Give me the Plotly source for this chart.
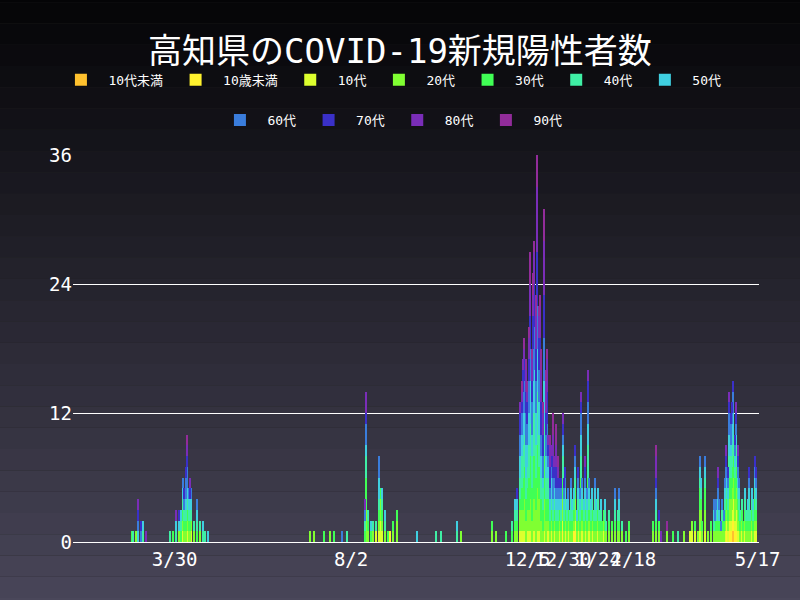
import plotly.graph_objects as go

# age groups (stack order bottom -> top) and colours
groups = ["10代未満", "10歳未満", "10代", "20代", "30代", "40代", "50代",
          "60代", "70代", "80代", "90代"]
colors = ["#FFC12E", "#FFF22E", "#DDFF2E", "#80FF32", "#40FF55", "#3FEFA5",
          "#3FCFE0", "#3A7DDC", "#3A30C8", "#7A2DB8", "#922C9A"]

# daily new cases per age group (date, counts in group order)
rows = [
    ("2020-02-29", [0,0,0,0,1,0,0,0,0,0,0]),
    ("2020-03-01", [0,0,0,0,0,1,0,0,0,0,0]),
    ("2020-03-03", [0,0,0,1,0,0,0,0,0,0,0]),
    ("2020-03-04", [0,0,0,0,0,0,1,1,1,1,0]),
    ("2020-03-06", [0,0,0,0,0,0,0,1,1,0,0]),
    ("2020-03-08", [0,0,0,0,0,1,1,0,0,0,0]),
    ("2020-03-10", [0,0,0,0,0,0,0,0,0,1,0]),
    ("2020-03-27", [0,0,0,0,0,1,0,0,0,0,0]),
    ("2020-03-29", [0,0,0,0,1,0,0,0,0,0,0]),
    ("2020-03-31", [0,0,0,0,0,1,1,0,0,1,0]),
    ("2020-04-02", [0,0,0,1,0,0,1,0,1,0,0]),
    ("2020-04-04", [0,0,0,0,1,1,1,0,0,0,0]),
    ("2020-04-05", [0,0,1,1,1,1,1,1,0,0,0]),
    ("2020-04-06", [0,0,0,1,1,1,0,1,1,0,0]),
    ("2020-04-07", [0,0,0,1,1,1,1,2,1,0,0]),
    ("2020-04-08", [0,0,1,1,1,1,1,2,1,1,1]),
    ("2020-04-09", [0,0,0,1,1,1,1,1,0,0,0]),
    ("2020-04-10", [0,0,0,1,1,1,1,0,1,1,0]),
    ("2020-04-11", [0,0,1,1,0,1,1,1,0,0,0]),
    ("2020-04-13", [0,0,0,1,0,1,0,0,0,0,0]),
    ("2020-04-15", [0,0,0,0,1,1,1,1,0,0,0]),
    ("2020-04-17", [0,0,0,1,0,1,0,0,0,0,0]),
    ("2020-04-19", [0,0,0,0,0,1,1,0,0,0,0]),
    ("2020-04-21", [0,0,0,0,0,1,0,0,0,0,0]),
    ("2020-04-23", [0,0,0,0,0,0,1,0,0,0,0]),
    ("2020-07-04", [0,0,0,1,0,0,0,0,0,0,0]),
    ("2020-07-07", [0,0,0,1,0,0,0,0,0,0,0]),
    ("2020-07-14", [0,0,0,0,1,0,0,0,0,0,0]),
    ("2020-07-18", [0,0,0,1,0,0,0,0,0,0,0]),
    ("2020-07-21", [0,0,0,0,1,0,0,0,0,0,0]),
    ("2020-07-27", [0,0,0,0,0,0,0,1,0,0,0]),
    ("2020-07-30", [0,0,0,0,0,1,0,0,0,0,0]),
    ("2020-08-12", [0,0,0,0,1,1,0,1,0,1,0]),
    ("2020-08-13", [0,0,0,3,3,2,1,2,1,2,0]),
    ("2020-08-14", [0,0,0,1,1,1,0,0,0,0,0]),
    ("2020-08-16", [0,0,0,0,1,0,1,0,0,0,0]),
    ("2020-08-18", [0,0,0,1,0,1,0,0,0,0,0]),
    ("2020-08-20", [0,0,1,0,0,1,0,0,0,0,0]),
    ("2020-08-22", [0,0,1,1,1,1,2,2,0,0,0]),
    ("2020-08-23", [0,0,2,2,1,0,0,0,0,0,0]),
    ("2020-08-24", [0,0,1,1,1,1,1,0,0,0,0]),
    ("2020-08-26", [0,0,0,1,0,1,1,0,0,0,0]),
    ("2020-08-28", [0,0,0,0,1,0,0,0,0,0,0]),
    ("2020-08-30", [0,1,0,0,0,0,0,0,0,0,0]),
    ("2020-09-01", [0,0,0,1,1,0,0,0,0,0,0]),
    ("2020-09-04", [0,0,0,2,1,0,0,0,0,0,0]),
    ("2020-09-18", [0,0,0,0,0,0,1,0,0,0,0]),
    ("2020-10-01", [0,0,0,0,0,1,0,0,0,0,0]),
    ("2020-10-05", [0,0,0,0,0,1,0,0,0,0,0]),
    ("2020-10-16", [0,0,0,0,0,1,1,0,0,0,0]),
    ("2020-10-19", [0,0,0,1,0,0,0,0,0,0,0]),
    ("2020-11-10", [0,0,0,1,1,0,0,0,0,0,0]),
    ("2020-11-13", [0,0,0,1,0,0,0,0,0,0,0]),
    ("2020-11-20", [0,0,0,0,1,0,0,0,0,0,0]),
    ("2020-11-24", [0,0,0,0,1,1,0,0,0,0,0]),
    ("2020-11-26", [0,0,0,1,1,1,1,0,0,0,0]),
    ("2020-11-28", [0,0,0,1,1,1,1,0,1,0,0]),
    ("2020-11-30", [0,0,1,2,1,2,2,2,2,1,0]),
    ("2020-12-01", [0,0,1,2,2,3,2,2,1,1,1]),
    ("2020-12-02", [0,0,1,2,3,3,3,2,2,1,0]),
    ("2020-12-03", [0,0,1,3,3,3,2,3,2,1,1]),
    ("2020-12-04", [0,0,0,2,2,2,3,3,2,2,1]),
    ("2020-12-05", [0,0,1,2,2,2,2,2,2,1,1]),
    ("2020-12-06", [0,0,1,2,3,3,3,3,2,2,1]),
    ("2020-12-07", [0,0,1,3,4,3,4,3,3,3,3]),
    ("2020-12-08", [0,0,0,2,3,3,2,3,2,2,1]),
    ("2020-12-09", [0,0,1,3,4,4,3,3,3,2,2]),
    ("2020-12-10", [0,0,1,3,4,4,4,4,4,3,1]),
    ("2020-12-11", [0,0,0,3,3,3,3,3,3,3,2]),
    ("2020-12-12", [0,0,1,4,4,5,4,4,5,6,3]),
    ("2020-12-13", [0,0,1,3,3,3,3,3,3,2,1]),
    ("2020-12-14", [0,0,1,3,3,3,3,3,3,3,1]),
    ("2020-12-15", [0,0,0,2,2,2,2,2,3,3,2]),
    ("2020-12-16", [0,0,0,1,2,2,1,2,2,2,1]),
    ("2020-12-17", [0,0,1,3,4,3,4,4,4,5,3]),
    ("2020-12-18", [0,0,0,2,2,2,2,2,2,3,1]),
    ("2020-12-19", [0,0,1,2,2,2,2,2,3,3,1]),
    ("2020-12-20", [0,0,1,1,2,2,1,1,1,1,0]),
    ("2020-12-21", [0,0,0,1,1,1,1,1,2,2,1]),
    ("2020-12-22", [0,0,1,1,1,1,2,1,1,1,0]),
    ("2020-12-23", [0,0,0,1,1,1,1,2,2,2,2]),
    ("2020-12-24", [0,0,1,1,1,1,1,1,1,1,0]),
    ("2020-12-25", [0,0,0,1,1,1,1,1,2,2,2]),
    ("2020-12-26", [0,0,1,1,1,1,1,1,1,0,0]),
    ("2020-12-27", [0,0,0,1,1,1,1,1,1,1,1]),
    ("2020-12-28", [0,0,1,1,1,0,1,1,1,0,0]),
    ("2020-12-29", [0,0,0,1,1,1,1,1,1,0,0]),
    ("2020-12-30", [0,1,1,2,2,2,1,1,1,1,0]),
    ("2020-12-31", [0,0,0,1,1,1,1,1,1,0,0]),
    ("2021-01-01", [0,0,1,1,1,1,1,1,1,0,0]),
    ("2021-01-02", [0,0,0,1,1,1,1,0,0,0,0]),
    ("2021-01-03", [0,0,1,1,1,0,1,1,0,0,0]),
    ("2021-01-04", [0,0,0,1,1,1,0,0,0,0,0]),
    ("2021-01-05", [0,0,1,1,1,1,1,1,0,0,0]),
    ("2021-01-06", [0,0,0,1,1,1,1,0,0,0,0]),
    ("2021-01-07", [0,1,0,1,1,1,1,0,0,0,0]),
    ("2021-01-08", [0,1,1,2,1,1,1,1,1,0,0]),
    ("2021-01-09", [0,0,0,1,1,0,1,0,0,0,0]),
    ("2021-01-10", [0,0,1,1,1,1,1,1,1,0,0]),
    ("2021-01-11", [0,0,0,1,1,1,1,1,0,0,0]),
    ("2021-01-12", [0,1,1,2,2,2,2,2,1,1,0]),
    ("2021-01-13", [0,0,1,1,1,1,1,1,0,0,0]),
    ("2021-01-14", [0,0,0,1,1,1,1,0,0,0,0]),
    ("2021-01-15", [0,0,1,1,1,1,1,1,1,1,0]),
    ("2021-01-16", [0,0,0,1,1,1,1,1,0,0,0]),
    ("2021-01-17", [0,0,1,2,3,3,2,2,2,1,0]),
    ("2021-01-18", [0,0,1,1,1,1,1,1,0,0,0]),
    ("2021-01-19", [0,0,0,1,1,1,1,0,0,0,0]),
    ("2021-01-20", [0,0,1,1,1,1,1,0,0,0,0]),
    ("2021-01-21", [0,0,0,1,1,1,0,0,0,0,0]),
    ("2021-01-22", [0,0,1,1,1,1,1,1,0,0,0]),
    ("2021-01-23", [0,0,0,1,1,1,1,0,0,0,0]),
    ("2021-01-24", [0,0,1,1,1,1,1,0,0,0,0]),
    ("2021-01-25", [0,0,0,1,1,1,0,0,0,0,0]),
    ("2021-01-26", [0,0,0,1,1,1,1,0,0,0,0]),
    ("2021-01-27", [0,0,0,1,1,0,0,0,0,0,0]),
    ("2021-01-28", [0,0,1,1,1,0,0,0,0,0,0]),
    ("2021-01-29", [0,0,0,1,1,1,1,0,0,0,0]),
    ("2021-01-30", [0,0,0,1,0,1,0,0,0,0,0]),
    ("2021-02-01", [0,0,0,1,1,1,0,0,0,0,0]),
    ("2021-02-03", [0,0,0,1,1,0,0,0,0,0,0]),
    ("2021-02-05", [0,0,0,1,1,1,1,1,0,0,0]),
    ("2021-02-07", [0,0,0,1,1,1,0,0,0,0,0]),
    ("2021-02-08", [0,0,0,1,1,1,1,1,0,0,0]),
    ("2021-02-10", [0,0,0,1,0,1,0,0,0,0,0]),
    ("2021-02-13", [0,0,0,0,1,0,0,0,0,0,0]),
    ("2021-02-15", [0,0,0,1,1,0,0,0,0,0,0]),
    ("2021-03-04", [0,0,0,1,1,0,0,0,0,0,0]),
    ("2021-03-06", [0,0,0,1,1,1,1,1,1,2,1]),
    ("2021-03-08", [0,0,0,1,1,0,0,0,1,0,0]),
    ("2021-03-10", [0,0,0,0,0,0,0,0,0,1,0]),
    ("2021-03-14", [0,0,0,1,0,0,0,0,0,0,1]),
    ("2021-03-18", [0,0,0,0,1,0,0,0,0,0,0]),
    ("2021-03-22", [0,0,0,0,0,1,0,0,0,0,0]),
    ("2021-03-26", [0,0,0,1,0,0,0,0,0,0,0]),
    ("2021-03-30", [0,0,1,0,0,0,0,0,0,0,0]),
    ("2021-04-01", [0,0,1,1,0,0,0,0,0,0,0]),
    ("2021-04-03", [0,0,1,0,1,0,0,0,0,0,0]),
    ("2021-04-05", [0,0,0,1,0,0,0,0,0,0,0]),
    ("2021-04-06", [0,0,1,2,2,1,1,1,0,0,0]),
    ("2021-04-07", [0,0,1,2,1,1,1,0,0,0,0]),
    ("2021-04-08", [0,0,0,1,1,0,0,0,0,0,0]),
    ("2021-04-10", [0,0,1,2,2,1,1,1,0,0,0]),
    ("2021-04-12", [0,0,0,1,0,0,0,0,0,0,0]),
    ("2021-04-14", [0,0,0,1,1,0,0,0,0,0,0]),
    ("2021-04-16", [0,0,0,1,0,1,1,1,0,0,0]),
    ("2021-04-17", [0,0,0,1,1,0,0,1,0,0,0]),
    ("2021-04-18", [0,0,0,1,1,0,1,1,0,0,0]),
    ("2021-04-19", [0,0,0,1,1,1,1,1,1,1,0]),
    ("2021-04-20", [0,0,0,1,1,0,1,1,0,0,0]),
    ("2021-04-21", [0,0,0,1,0,0,0,1,0,0,0]),
    ("2021-04-22", [0,0,0,1,1,1,0,1,0,0,0]),
    ("2021-04-23", [0,0,0,1,1,0,0,1,0,0,0]),
    ("2021-04-24", [0,0,1,1,1,1,1,1,0,0,0]),
    ("2021-04-25", [0,1,1,1,1,1,1,1,1,1,0]),
    ("2021-04-26", [0,0,1,1,1,1,1,1,1,0,0]),
    ("2021-04-27", [0,1,1,2,2,2,2,2,1,1,0]),
    ("2021-04-28", [0,1,1,2,2,2,1,2,1,0,0]),
    ("2021-04-29", [1,1,1,2,2,2,2,1,1,0,0]),
    ("2021-04-30", [1,1,2,2,2,2,2,2,1,0,0]),
    ("2021-05-01", [0,1,1,2,2,1,1,1,1,0,0]),
    ("2021-05-02", [0,1,2,2,2,2,1,1,1,1,0]),
    ("2021-05-03", [0,0,1,2,1,1,1,1,1,1,0]),
    ("2021-05-04", [0,0,1,1,1,1,1,1,0,0,0]),
    ("2021-05-05", [0,0,0,1,1,1,0,0,0,0,0]),
    ("2021-05-06", [0,0,1,1,1,1,0,0,0,0,0]),
    ("2021-05-07", [0,0,0,1,1,0,0,0,0,0,0]),
    ("2021-05-08", [0,0,1,1,1,1,1,0,0,0,0]),
    ("2021-05-09", [0,0,0,1,1,1,0,0,0,0,0]),
    ("2021-05-10", [0,0,0,1,1,1,1,0,0,0,0]),
    ("2021-05-11", [0,0,1,1,1,1,1,1,1,0,0]),
    ("2021-05-12", [0,0,0,1,1,1,0,0,0,0,0]),
    ("2021-05-13", [0,0,1,1,1,1,1,0,0,0,0]),
    ("2021-05-14", [0,0,0,1,1,1,1,0,0,0,0]),
    ("2021-05-15", [0,0,1,1,2,1,1,1,1,0,0]),
    ("2021-05-16", [0,0,1,1,1,1,1,1,1,0,0]),
]

tick_dates = ["2020-03-30", "2020-08-02", "2020-12-05", "2020-12-30",
              "2021-01-24", "2021-02-18", "2021-05-17"]
tick_labels = ["3/30", "8/2", "12/5", "12/30", "1/24", "2/18", "5/17"]

FONT = "DejaVu Sans Mono, Noto Sans CJK JP"

dates = [r[0] for r in rows]
fig = go.Figure()
for gi, (name, col) in enumerate(zip(groups, colors)):
    fig.add_trace(go.Bar(
        x=dates, y=[r[1][gi] for r in rows], name=name,
        marker=dict(color=col, line=dict(width=0)),
        legend="legend" if gi < 7 else "legend2",
    ))

# dark vertical gradient background
n = 30
for i in range(n):
    t = i / (n - 1)
    c = tuple(int(a + (b - a) * t) for a, b in zip((4, 4, 6), (74, 71, 90)))
    fig.add_shape(type="rect", xref="paper", yref="paper", layer="below",
                  x0=-0.2, x1=1.2, y0=1.45 - (i + 1) * 1.65 / n, y1=1.45 - i * 1.65 / n,
                  line=dict(width=0), fillcolor=f"rgb{c}")

legend_style = dict(orientation="h", xanchor="center", x=0.462, yanchor="middle",
                    font=dict(color="white", size=13, family=FONT),
                    bgcolor="rgba(0,0,0,0)", itemsizing="constant",
                    itemwidth=45, traceorder="normal")

fig.update_layout(
    width=800, height=600, barmode="stack", bargap=0,
    paper_bgcolor="#222", plot_bgcolor="rgba(0,0,0,0)",
    margin=dict(l=73, r=41, t=155, b=58),
    title=dict(text="高知県のCOVID-19新規陽性者数", x=0.5, y=0.935,
               xanchor="center", font=dict(color="white", size=34, family=FONT)),
    legend=dict(**legend_style, y=1.194),
    legend2=dict(**legend_style, y=1.09),
    xaxis=dict(type="date", range=["2020-01-18", "2021-05-18"],
               tickvals=tick_dates, ticktext=tick_labels, showgrid=False,
               showline=True, linecolor="white", ticks="", tickangle=0,
               tickfont=dict(color="white", size=19, family=FONT)),
    yaxis=dict(range=[0, 36], tickvals=[0, 12, 24, 36], gridcolor="white",
               zeroline=False, tickfont=dict(color="white", size=19, family=FONT)),
)

fig.write_html("out.html", config={"displayModeBar": False},
               post_script="document.body.style.margin='0';")
